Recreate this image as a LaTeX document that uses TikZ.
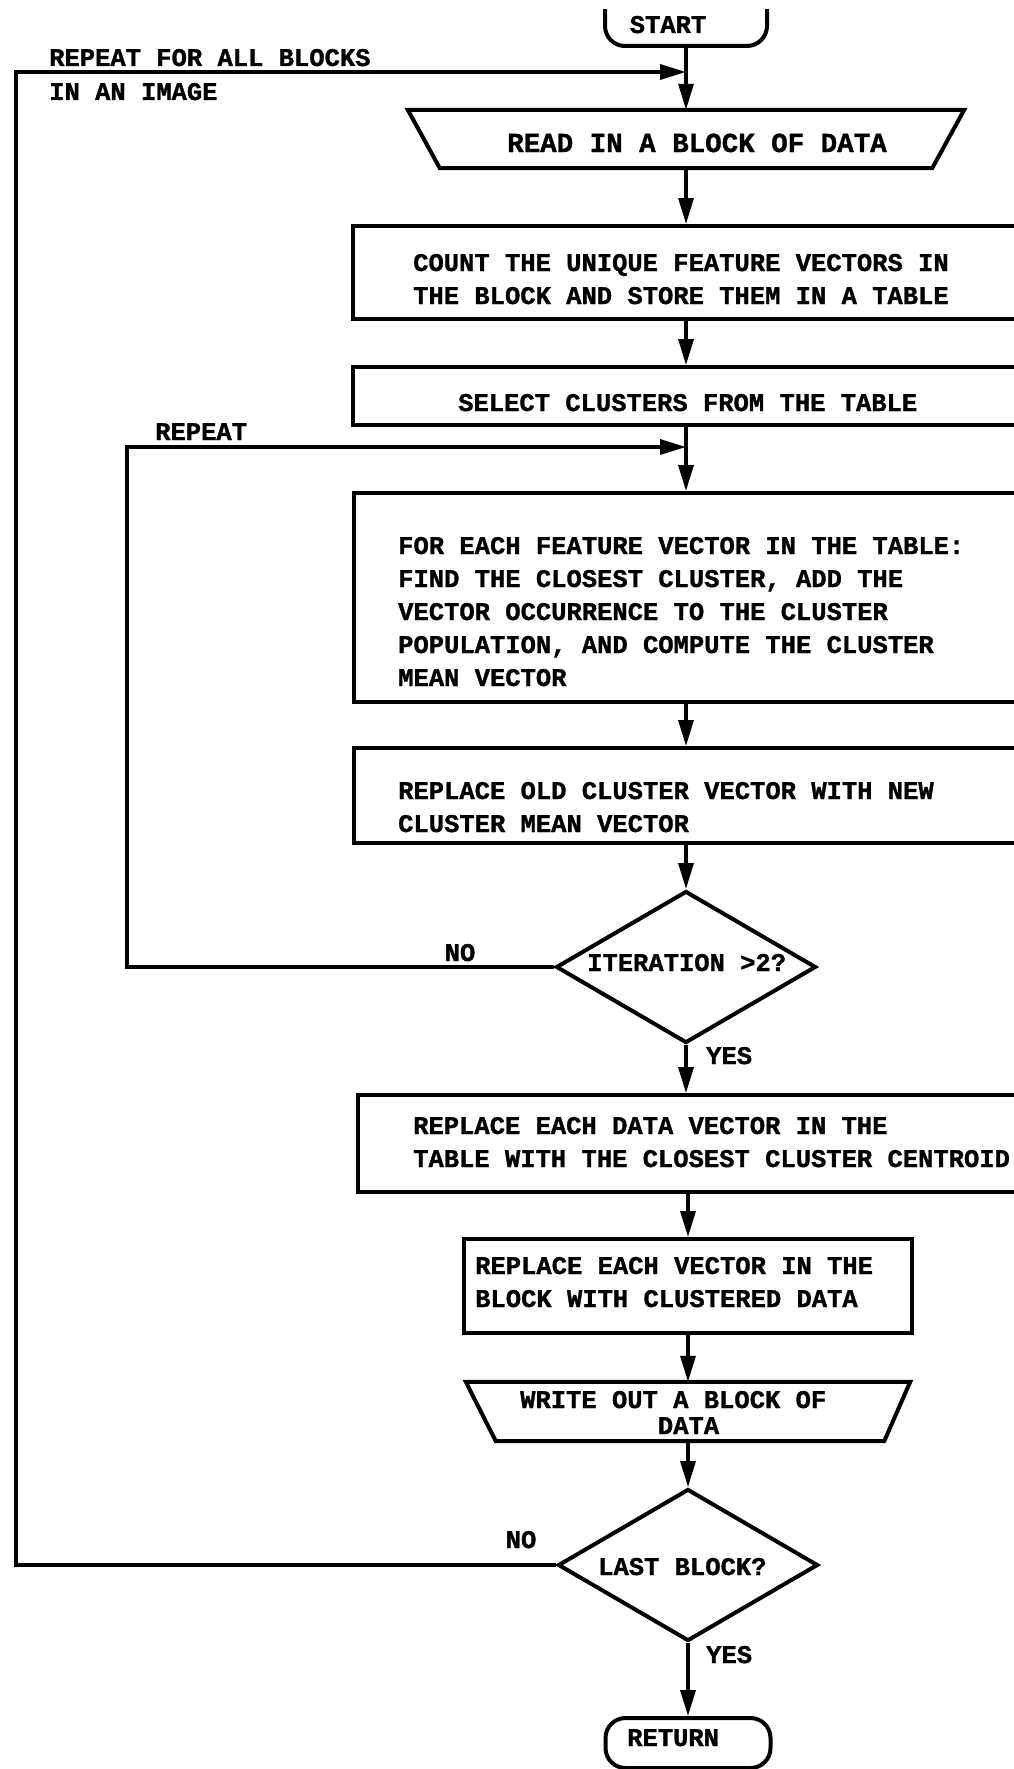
\documentclass[tikz,border=0pt]{standalone}
\usepackage{fontspec}
\setmonofont{Liberation Mono}[BoldFeatures={FakeBold=1.2}]
\usetikzlibrary{arrows.meta,shapes.geometric}
\newcommand{\twfont}{\ttfamily\bfseries\fontsize{25.5}{33}\selectfont}
\newcommand{\twbig}{\ttfamily\bfseries\fontsize{27.5}{33}\selectfont}
\newcommand{\twrep}{\ttfamily\bfseries\fontsize{25.5}{34}\selectfont}
\newcommand{\twtight}{\ttfamily\bfseries\fontsize{25.5}{26}\selectfont}
\tikzset{
  box/.style={draw, rectangle, line width=4pt, inner sep=0pt},
  term/.style={draw, rectangle, rounded corners=20pt, line width=4pt, inner sep=0pt},
  dec/.style={draw, diamond, line width=4pt, inner sep=0pt, minimum width=260pt, minimum height=152pt},
  iobox/.style={rectangle, inner sep=0pt},
  ioline/.style={line width=4pt, line join=miter},
  txt/.style={inner sep=0pt, font=\twfont},
  conn/.style={line width=3.3pt},
  arr/.style={conn, -{Triangle[length=26pt,width=15pt]}}
}
\begin{document}
\begin{tikzpicture}[x=1pt, y=-1pt]
\fill[white] (0,0) rectangle (1014,1769);
\useasboundingbox (0,0) rectangle (1014,1769);

% terminals, boxes, decisions
\begin{scope}
  \clip (0,10) rectangle (1014,120);
  \node[term, minimum width=162pt, minimum height=66pt] (start) at (686,13) {};
\end{scope}
\node[iobox, minimum width=556pt, minimum height=58pt] (read) at (686,139) {};
\draw[ioline] (read.north west) -- (read.north east) -- ([xshift=-32pt]read.south east) -- ([xshift=32pt]read.south west) -- cycle;
\node[box, minimum width=666pt, minimum height=93pt] (count) at (686,272.5) {};
\node[box, minimum width=666pt, minimum height=58pt] (select) at (686,396) {};
\node[box, minimum width=664pt, minimum height=209pt] (foreach) at (686,597.5) {};
\node[box, minimum width=664pt, minimum height=95pt] (replold) at (686,795.5) {};
\node[dec] (iter) at (686,967) {};
\node[box, minimum width=666pt, minimum height=97pt] (repldata) at (691,1143.5) {};
\node[box, minimum width=448pt, minimum height=94pt] (replvec) at (688,1286) {};
\node[iobox, minimum width=444pt, minimum height=59pt] (write) at (688,1411.5) {};
\draw[ioline] (write.north west) -- (write.north east) -- ([xshift=-26pt]write.south east) -- ([xshift=30pt]write.south west) -- cycle;
\node[dec] (last) at (688,1565) {};
\node[term, minimum width=165pt, minimum height=50pt] (return) at (688,1743) {};

% texts
\node[txt, anchor=base] (tstart) at (668,33) {START};
\node[txt, anchor=base west, font=\twrep] (trepall) at (49,66) {\begin{tabular}[t]{@{}l@{}}REPEAT FOR ALL BLOCKS\\IN AN IMAGE\end{tabular}};
\node[txt, anchor=base, font=\twbig] (tread) at (697,152) {READ IN A BLOCK OF DATA};
\node[txt, anchor=base west] (tcount) at (413,271) {\begin{tabular}[t]{@{}l@{}}COUNT THE UNIQUE FEATURE VECTORS IN\\THE BLOCK AND STORE THEM IN A TABLE\end{tabular}};
\node[txt, anchor=base west] (tselect) at (458,411) {SELECT CLUSTERS FROM THE TABLE};
\node[txt, anchor=base west] (trepeat) at (155,440) {REPEAT};
\node[txt, anchor=base west] (tforeach) at (398,554) {\begin{tabular}[t]{@{}l@{}}FOR EACH FEATURE VECTOR IN THE TABLE:\\FIND THE CLOSEST CLUSTER, ADD THE\\VECTOR OCCURRENCE TO THE CLUSTER\\POPULATION, AND COMPUTE THE CLUSTER\\MEAN VECTOR\end{tabular}};
\node[txt, anchor=base west] (treplold) at (398,799) {\begin{tabular}[t]{@{}l@{}}REPLACE OLD CLUSTER VECTOR WITH NEW\\CLUSTER MEAN VECTOR\end{tabular}};
\node[txt, anchor=base west] (titer) at (587,971) {ITERATION >2?};
\node[txt, anchor=base] (tno1) at (460,961) {NO};
\node[txt, anchor=base west] (tyes1) at (706,1064) {YES};
\node[txt, anchor=base west] (trepldata) at (413,1134) {\begin{tabular}[t]{@{}l@{}}REPLACE EACH DATA VECTOR IN THE\\TABLE WITH THE CLOSEST CLUSTER CENTROID\end{tabular}};
\node[txt, anchor=base west] (treplvec) at (475,1274) {\begin{tabular}[t]{@{}l@{}}REPLACE EACH VECTOR IN THE\\BLOCK WITH CLUSTERED DATA\end{tabular}};
\node[txt, anchor=base west, font=\twtight] (twrite) at (520,1408) {\begin{tabular}[t]{@{}l@{}}WRITE OUT A BLOCK OF\\\phantom{WRITE OUT}DATA\end{tabular}};
\node[txt, anchor=base west] (tlast) at (598,1575) {LAST BLOCK?};
\node[txt, anchor=base] (tno2) at (521,1548) {NO};
\node[txt, anchor=base west] (tyes2) at (706,1663) {YES};
\node[txt, anchor=base west] (treturn) at (627,1746) {RETURN};

% join points of the loops
\coordinate (oL) at (16,72);
\coordinate (oJ) at (686,72);
\coordinate (iL) at (127,447);
\coordinate (iJ) at (686,447);

% main flow
\draw[arr] (start.south) -- (start.south |- read.north);
\draw[arr] (read.south) -- (read.south |- count.north);
\draw[arr] (count.south) -- (count.south |- select.north);
\draw[arr] (select.south) -- (select.south |- foreach.north);
\draw[arr] (foreach.south) -- (foreach.south |- replold.north);
\draw[arr] (replold.south) -- (iter.north);
\draw[arr] (iter.south) -- (iter.south |- repldata.north);
\draw[arr] (repldata.south -| replvec.north) -- (replvec.north);
\draw[arr] (replvec.south) -- (write.north);
\draw[arr] (write.south) -- (last.north);
\draw[arr] (last.south) -- (return.north);

% loops
\draw[arr] (iter.west) -| (iL) -- (iJ);
\draw[arr] (last.west) -| (oL) -- (oJ);
\end{tikzpicture}
\end{document}
